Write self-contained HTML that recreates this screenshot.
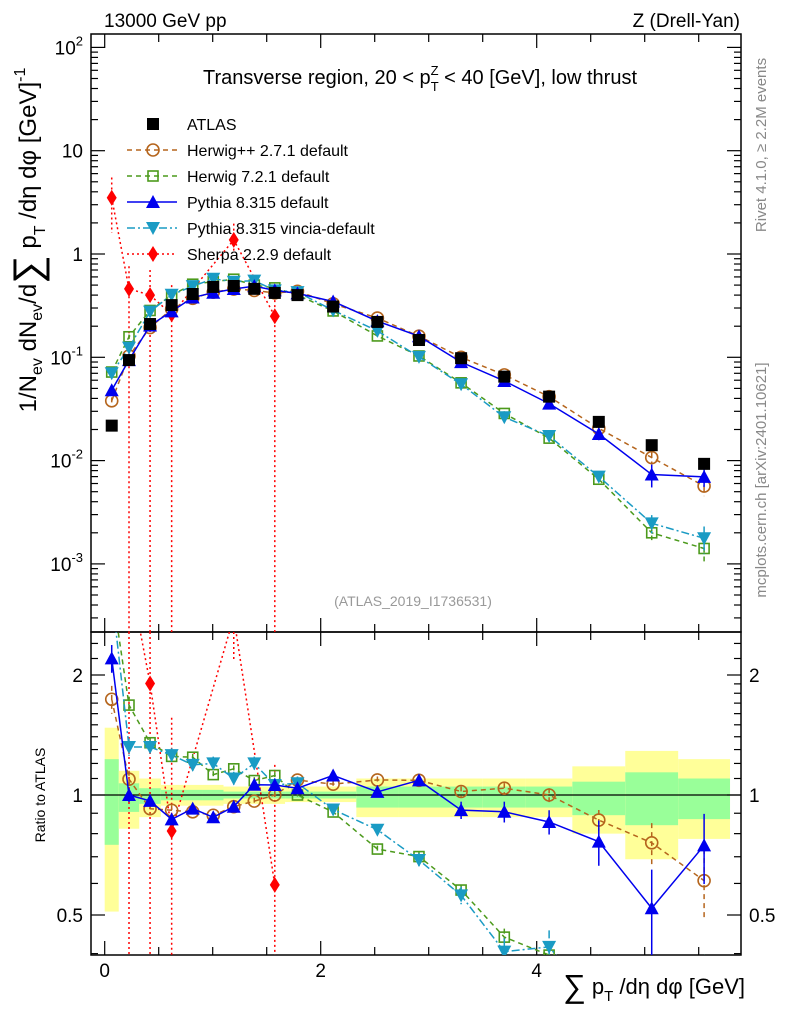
<!DOCTYPE html>
<html><head><meta charset="utf-8"><style>
html,body{margin:0;background:#fff;overflow:hidden;width:786px;height:1024px;}
svg{display:block;font-family:"Liberation Sans",sans-serif;}
</style></head><body>
<svg id="chart" width="786" height="1024" viewBox="0 0 786 1024" xmlns="http://www.w3.org/2000/svg">
<defs>
<clipPath id="cm"><rect x="91" y="34" width="650" height="598"/></clipPath>
<clipPath id="cr"><rect x="91" y="632" width="650" height="323"/></clipPath>
</defs>
<text x="104" y="27" font-size="19">13000 GeV pp</text>
<text x="740" y="27" font-size="19" text-anchor="end">Z (Drell-Yan)</text>
<text x="420" y="84" font-size="20" text-anchor="middle">Transverse region, 20 &lt; p<tspan font-size="13" dy="7">T</tspan><tspan font-size="13" dx="-8" dy="-16">Z</tspan><tspan dy="9"> &lt; 40 [GeV], low thrust</tspan></text>
<text x="413" y="606" font-size="14" fill="#999" text-anchor="middle">(ATLAS_2019_I1736531)</text>
<text transform="translate(766,145) rotate(-90)" font-size="15" fill="#888" text-anchor="middle">Rivet 4.1.0, ≥ 2.2M events</text>
<text transform="translate(766,480) rotate(-90)" font-size="15" fill="#888" text-anchor="middle">mcplots.cern.ch [arXiv:2401.10621]</text>
<text transform="translate(36,240) rotate(-90)" font-size="24" text-anchor="middle">1/N<tspan font-size="16" dy="6">ev</tspan><tspan dy="-6"> dN</tspan><tspan font-size="16" dy="6">ev</tspan><tspan dy="-6">/d</tspan><tspan font-size="40" dy="5">∑</tspan><tspan dy="-5"> p</tspan><tspan font-size="16" dy="9">T</tspan><tspan dy="-9"> /dη dφ  [GeV]</tspan><tspan font-size="16" dy="-11">-1</tspan></text>
<text transform="translate(45,795) rotate(-90)" font-size="14" text-anchor="middle">Ratio to ATLAS</text>
<text x="745" y="994" font-size="22" text-anchor="end"><tspan font-size="32" dy="3">∑</tspan><tspan dy="-3"> p</tspan><tspan font-size="15" dy="7">T</tspan><tspan dy="-7"> /dη dφ [GeV]</tspan></text>
<g id="bands"></g>
<g id="axes"></g>
<g id="series"></g>
<g id="legend"></g>
</svg>
<script>
const edges=[0,0.13,0.32,0.52,0.72,0.91,1.1,1.29,1.48,1.67,1.9,2.33,2.72,3.1,3.5,3.9,4.33,4.82,5.31,5.79];
const atlas=[0.0218,0.094,0.21,0.32,0.41,0.48,0.49,0.46,0.42,0.40,0.31,0.22,0.147,0.098,0.065,0.0416,0.0237,0.0141,0.0093];
const herwigpp=[0.0379,0.103,0.194,0.293,0.372,0.427,0.458,0.444,0.42,0.436,0.33,0.24,0.160,0.100,0.0676,0.0416,0.0205,0.0107,0.00567];
const herwig7=[0.072,0.158,0.284,0.40,0.51,0.54,0.57,0.50,0.47,0.40,0.281,0.161,0.103,0.0566,0.0286,0.0165,0.0066,0.0020,0.00141];
const pythia=[0.048,0.094,0.203,0.278,0.379,0.422,0.458,0.488,0.445,0.416,0.347,0.224,0.160,0.0898,0.059,0.0356,0.0181,0.00733,0.00695];
const vincia=[0.070,0.124,0.277,0.403,0.488,0.576,0.539,0.552,0.445,0.428,0.285,0.18,0.101,0.0549,0.0263,0.0173,0.0070,0.00247,0.00177];
const sherpa=[3.5,0.46,0.40,0.26,null,null,1.37,null,0.25,null,null,null,null,null,null,null,null,null,null];
const sherpaErrUp=[2.0,0.3,0.3,0.24,null,null,0.6,null,0.25,null,null,null,null,null,null,null,null,null,null];
const sherpaErrDn=[1.9,0.46,0.40,0.26,null,null,0.3,null,0.25,null,null,null,null,null,null,null,null,null,null];
const pythiaRelErr=[0.08,0.04,0.03,0.03,0.03,0.03,0.03,0.03,0.03,0.03,0.03,0.03,0.03,0.05,0.06,0.07,0.13,0.25,0.2];
const herwigppRelErr=[0.08,0.05,0.03,0.03,0.02,0.02,0.02,0.02,0.02,0.02,0.02,0.02,0.02,0.03,0.03,0.04,0.06,0.12,0.2];
const herwig7RelErr=[0.08,0.05,0.03,0.03,0.02,0.02,0.02,0.02,0.02,0.02,0.02,0.02,0.03,0.03,0.05,0.06,0.1,0.15,0.25];
const vinciaRelErr=[0.08,0.05,0.04,0.04,0.04,0.04,0.04,0.04,0.04,0.04,0.03,0.03,0.04,0.05,0.08,0.1,0.12,0.2,0.3];
const totUp=[1.475,1.15,1.10,1.06,1.06,1.06,1.05,1.05,1.05,1.05,1.05,1.10,1.10,1.10,1.10,1.10,1.18,1.29,1.23];
const totDn=[0.51,0.823,0.88,0.94,0.94,0.94,0.95,0.95,0.95,0.96,0.96,0.88,0.88,0.88,0.88,0.88,0.80,0.69,0.776];
const statUp=[1.23,1.07,1.04,1.03,1.03,1.03,1.02,1.02,1.02,1.02,1.02,1.05,1.05,1.05,1.05,1.05,1.08,1.14,1.10];
const statDn=[0.75,0.907,0.95,0.97,0.97,0.97,0.98,0.98,0.98,0.98,0.98,0.93,0.93,0.93,0.93,0.93,0.89,0.84,0.87];
const xTicks=[0,2,4];
const mainTickExps=[-3,-2,-1,0,1,2];
const ratioTicks=[2,1,0.5];

const NS='http://www.w3.org/2000/svg';
const X=v=>104.7+108*v;
const Ym=v=>254-103.3*Math.log10(v);
const Yr=r=>795-120*Math.log2(r);
const clampY=(y,lo,hi)=>Math.min(hi,Math.max(lo,y));
const centers=edges.slice(0,-1).map((e,i)=>(e+edges[i+1])/2);
function mk(tag,attrs,parent){const e=document.createElementNS(NS,tag);for(const k in attrs)e.setAttribute(k,attrs[k]);parent.appendChild(e);return e;}
const axes=document.getElementById('axes'),bands=document.getElementById('bands'),ser=document.getElementById('series'),leg=document.getElementById('legend');

const bg=mk('g',{'clip-path':'url(#cr)'},bands);


for(let i=0;i<centers.length;i++){
  const r1=mk('rect',{x:X(edges[i]),y:Yr(totUp[i]),width:X(edges[i+1])-X(edges[i]),height:Yr(totDn[i])-Yr(totUp[i]),fill:'#ffff99'},bg);
  
  
  const r2=mk('rect',{x:X(edges[i]),y:Yr(statUp[i]),width:X(edges[i+1])-X(edges[i]),height:Yr(statDn[i])-Yr(statUp[i]),fill:'#99ff99'},bg);
  
  
}
mk('line',{x1:91,x2:741,y1:Yr(1),y2:Yr(1),stroke:'#000','stroke-width':1.3},bg);

const f1=mk('rect',{x:91,y:34,width:650,height:598,fill:'none',stroke:'#000','stroke-width':1.5},axes);


const f2=mk('rect',{x:91,y:632,width:650,height:323,fill:'none',stroke:'#000','stroke-width':1.5},axes);


for(let v=0;v<=5.8;v+=0.5){
  const maj=xTicks.includes(v);const L=maj?14:8;
  [[34,1],[632,-1],[632,1],[955,-1]].forEach(([y,d])=>mk('line',{x1:X(v),x2:X(v),y1:y,y2:y+d*L,stroke:'#000','stroke-width':1.2},axes));
}
xTicks.forEach(v=>{const t=mk('text',{x:X(v),y:977,'font-size':19,'text-anchor':'middle'},axes);t.textContent=v;

});
for(let e=-4;e<=2;e++){for(let m=1;m<10;m++){const v=m*Math.pow(10,e);const y=Ym(v);if(y<34||y>632)continue;const L=m==1?14:7;
 mk('line',{x1:91,x2:91+L,y1:y,y2:y,stroke:'#000','stroke-width':1.2},axes);mk('line',{x1:741,x2:741-L,y1:y,y2:y,stroke:'#000','stroke-width':1.2},axes);}}
mainTickExps.forEach(e=>{const y=Ym(Math.pow(10,e))+7;const t=mk('text',{x:83,y:y,'font-size':19,'text-anchor':'end'},axes);
 
 
 if(e==0)t.textContent='1';else if(e==1)t.textContent='10';else{t.textContent='10';const s=mk('tspan',{'font-size':13,dy:-9},t);s.textContent=e;}});
[0.4,0.5,0.6,0.7,0.8,0.9,1,1.1,1.2,1.3,1.4,1.5,1.6,1.7,1.8,1.9,2,2.2,2.4].forEach(r=>{const y=Yr(r);const L=ratioTicks.includes(r)?14:7;
 mk('line',{x1:91,x2:91+L,y1:y,y2:y,stroke:'#000','stroke-width':1.2},axes);mk('line',{x1:741,x2:741-L,y1:y,y2:y,stroke:'#000','stroke-width':1.2},axes);});
ratioTicks.forEach(r=>{[[83,'end'],[749,'start']].forEach(([x,a])=>{const t=mk('text',{x:x,y:Yr(r)+7,'font-size':19,'text-anchor':a},axes);t.textContent=r;
 
 });});

function marker(g,type,x,y,c){
 const s=6;
 if(type=='sq')return mk('rect',{x:x-s,y:y-s,width:2*s,height:2*s,fill:c},g);
 if(type=='osq')return mk('rect',{x:x-s+1,y:y-s+1,width:2*s-2,height:2*s-2,fill:'none',stroke:c,'stroke-width':1.6},g);
 if(type=='oc')return mk('circle',{cx:x,cy:y,r:6,fill:'none',stroke:c,'stroke-width':1.6},g);
 if(type=='tu')return mk('polygon',{points:`${x},${y-7} ${x-7},${y+6} ${x+7},${y+6}`,fill:c},g);
 if(type=='td')return mk('polygon',{points:`${x},${y+7} ${x-7},${y-6} ${x+7},${y-6}`,fill:c},g);
 if(type=='di')return mk('polygon',{points:`${x},${y-8} ${x-5},${y} ${x},${y+8} ${x+5},${y}`,fill:c},g);
}
const specs=[
 {name:'herwigpp',vals:herwigpp,err:herwigppRelErr,c:'#b5651d',dash:'5,4',m:'oc'},
 {name:'herwig7',vals:herwig7,err:herwig7RelErr,c:'#4c9a1c',dash:'5,4',m:'osq'},
 {name:'vincia',vals:vincia,err:vinciaRelErr,c:'#1a9bc4',dash:'8,3,2,3',m:'td'},
 {name:'pythia',vals:pythia,err:pythiaRelErr,c:'#0000ee',dash:'',m:'tu'},
];
function drawSeries(g,vals,up,dn,yf,c,dash,m,w,ylo,yhi){
 let d='',pen=false;
 vals.forEach((v,i)=>{if(v==null||v<=0)return;const p=`${X(centers[i])},${clampY(yf(v),ylo-60,yhi+60)}`;d+=(pen?'L':'M')+p;pen=true;});
 const pa=mk('path',{d:d,fill:'none',stroke:c,'stroke-width':w,'stroke-dasharray':dash},g);
 
 
 vals.forEach((v,i)=>{if(v==null||v<=0)return;const x=X(centers[i]);const y=yf(v);
  const lo=Math.max(v-dn[i],1e-9);
  mk('line',{x1:x,x2:x,y1:clampY(yf(v+up[i]),ylo,yhi),y2:clampY(yf(lo),ylo,yhi),stroke:c,'stroke-width':1.5,'stroke-dasharray':dash},g);
  if(y<ylo-20||y>yhi+20)return;
  const mm=marker(g,m,x,y,c);
  
  });
}
const gm=mk('g',{'clip-path':'url(#cm)'},ser);


const gr=mk('g',{'clip-path':'url(#cr)'},ser);


drawSeries(gm,sherpa,sherpaErrUp,sherpaErrDn,Ym,'#ff0000','2,3','di',1.5,34,632);
const sr=sherpa.map((v,i)=>v==null?null:v/atlas[i]);
drawSeries(gr,sr,sherpaErrUp.map((e,i)=>e==null?0:e/atlas[i]),sherpaErrDn.map((e,i)=>e==null?0:e/atlas[i]),Yr,'#ff0000','2,3','di',1.5,632,955);
specs.forEach(s=>{
 const up=s.vals.map((v,i)=>v*s.err[i]);
 drawSeries(gm,s.vals,up,up,Ym,s.c,s.dash,s.m,1.5,34,632);
 const r=s.vals.map((v,i)=>v/atlas[i]);
 const ru=r.map((v,i)=>v*s.err[i]);
 drawSeries(gr,r,ru,ru,Yr,s.c,s.dash,s.m,1.5,632,955);
});
atlas.forEach((v,i)=>{const mm=marker(gm,'sq',X(centers[i]),Ym(v),'#000');
 
 });

const L=[['ATLAS','#000','','sq',false],['Herwig++ 2.7.1 default','#b5651d','5,4','oc',true],['Herwig 7.2.1 default','#4c9a1c','5,4','osq',true],['Pythia 8.315 default','#0000ee','','tu',true],['Pythia 8.315 vincia-default','#1a9bc4','8,3,2,3','td',true],['Sherpa 2.2.9 default','#ff0000','2,3','di',true]];
L.forEach((e,i)=>{const y=124+26*i;const g=mk('g',{},leg);
 
 
 if(e[4])mk('line',{x1:127,x2:177,y1:y,y2:y,stroke:e[1],'stroke-width':1.5,'stroke-dasharray':e[2]},g);
 marker(g,e[3],153,y,e[1]);
 const t=mk('text',{x:187,y:y+6,'font-size':16},g);t.textContent=e[0];});
</script>
</body></html>
